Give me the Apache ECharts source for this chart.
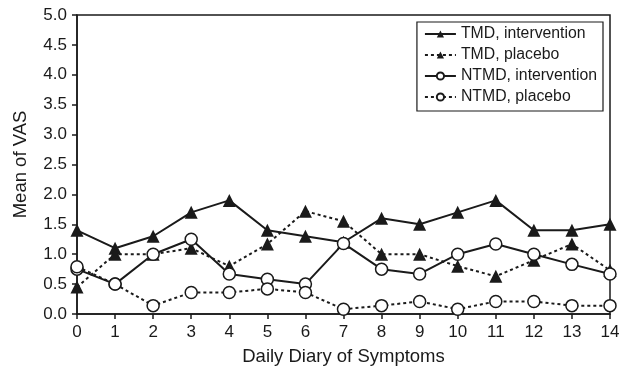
<!DOCTYPE html>
<html>
<head>
<meta charset="utf-8">
<script src="https://cdn.jsdelivr.net/npm/echarts@6/dist/echarts.min.js"></script>
<style>html,body{margin:0;padding:0;background:#fff;}#c{width:622px;height:371px;}</style>
</head>
<body>
<div id="c"></div>
<script>
var days = [0,1,2,3,4,5,6,7,8,9,10,11,12,13,14];
var yTicks = [0,0.5,1,1.5,2,2.5,3,3.5,4,4.5,5];
var tmdIntervention = [1.4,1.1,1.3,1.7,1.9,1.4,1.3,1.2,1.6,1.5,1.7,1.9,1.4,1.4,1.5];
var tmdPlacebo      = [0.45,1.0,1.0,1.1,0.8,1.17,1.72,1.55,1.0,1.0,0.8,0.63,0.9,1.17,0.73];
var ntmdIntervention= [0.75,0.5,1.0,1.25,0.67,0.58,0.5,1.18,0.75,0.67,1.0,1.17,1.0,0.83,0.67];
var ntmdPlacebo     = [0.79,0.5,0.14,0.36,0.36,0.42,0.36,0.08,0.14,0.21,0.08,0.21,0.21,0.14,0.14];
var names = ['TMD, intervention','TMD, placebo','NTMD, intervention','NTMD, placebo'];

function pairs(v){return days.map(function(d,i){return [d,v[i]];});}
var ink = '#1a1a1a';
function ser(name, vals, dotted, tri){
  return {
    name: name, type: 'line', data: pairs(vals),
    symbol: tri ? 'triangle' : 'circle',
    symbolSize: tri ? 13 : 12,
    itemStyle: tri ? {color: ink, borderColor: ink, borderWidth: 0}
                   : {color: '#fff', borderColor: ink, borderWidth: 1.5},
    lineStyle: {color: ink, width: 2, type: dotted ? [3,3] : 'solid'},
    emphasis: {disabled: true},
    animation: false
  };
}
var chart = echarts.init(document.getElementById('c'));
var font = 'Liberation Sans, Arial, Helvetica, sans-serif';
chart.setOption({
  animation: false,
  textStyle: {fontFamily: font},
  grid: {left: 77, right: 12, top: 15, bottom: 57, containLabel: false, outerBoundsMode: 'none',
         show: true, borderColor: ink, borderWidth: 1.5, backgroundColor: 'transparent'},
  legend: {
    data: names, orient: 'vertical', right: 19, top: 22,
    backgroundColor: '#fff', borderColor: ink, borderWidth: 1.2, borderRadius: 0,
    padding: [4, 6, 6, 7], itemGap: 5, itemWidth: 31, itemHeight: 9,
    textStyle: {fontFamily: font, fontSize: 15.8, color: ink}
  },
  xAxis: {
    type: 'value', min: 0, max: 14, interval: 1,
    name: 'Daily Diary of Symptoms', nameLocation: 'middle', nameGap: 33,
    nameTextStyle: {fontSize: 18.5, color: ink, fontFamily: font},
    axisLine: {lineStyle: {color: ink, width: 1.5}},
    axisTick: {show: true, length: 5, lineStyle: {color: ink, width: 1.5}},
    axisLabel: {fontSize: 17, color: ink, margin: 10, fontFamily: font},
    splitLine: {show: false}
  },
  yAxis: {
    type: 'value', min: 0, max: 5, interval: 0.5,
    name: 'Mean of VAS', nameLocation: 'middle', nameGap: 47, nameRotate: 90,
    nameTextStyle: {fontSize: 18.5, color: ink, fontFamily: font},
    axisLine: {show: true, lineStyle: {color: ink, width: 1.5}},
    axisTick: {show: true, length: 5, lineStyle: {color: ink, width: 1.5}},
    axisLabel: {fontSize: 17, color: ink, margin: 10, fontFamily: font,
      formatter: function(v){return yTicks.indexOf(v) >= 0 ? v.toFixed(1) : '';}},
    splitLine: {show: false}
  },
  series: [
    ser(names[0], tmdIntervention, false, true),
    ser(names[1], tmdPlacebo, true, true),
    ser(names[2], ntmdIntervention, false, false),
    ser(names[3], ntmdPlacebo, true, false)
  ]
});
</script>
</body>
</html>
